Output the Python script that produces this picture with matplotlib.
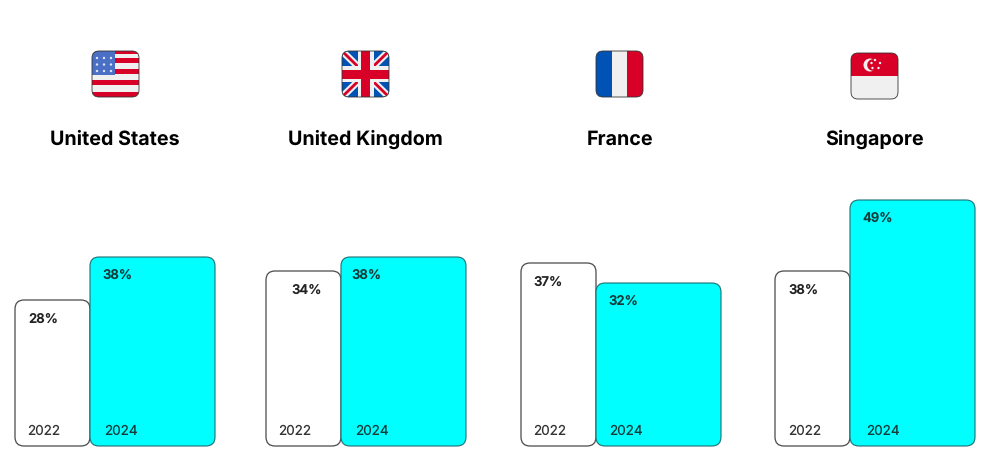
import matplotlib
matplotlib.use("Agg")
import matplotlib.pyplot as plt
from matplotlib.patches import FancyBboxPatch, Rectangle, Polygon, Circle

plt.rcParams['font.family'] = ['Inter', 'DejaVu Sans']
plt.rcParams['text.hinting'] = 'none'

countries = ['United States', 'United Kingdom', 'France', 'Singapore']
years = ['2022', '2024']
labels_2022 = ['28%', '34%', '37%', '38%']
labels_2024 = ['38%', '38%', '32%', '49%']
# heights as drawn, they do not follow the printed labels exactly
height_2022 = [29.2, 35.0, 36.6, 35.0]
height_2024 = [37.8, 37.8, 32.6, 49.2]

PX = 5.0  # pixels per percent
BASE = 446
group_x = [15, 266, 521, 775]
flag_x = [92, 342, 596, 851]
flag_y = [51, 51, 51, 53]
title_x = [115, 365, 620, 875]
label_2022_dx = [13, 25, 12, 13]
label_2024_dx = [12, 10, 12, 12]
year_2022_dx = [12.5, 12.5, 12.5, 13.5]
year_2024_dx = [14.5, 14.5, 13.5, 16.5]
FLAG_W, FLAG_H = 47, 46

fig = plt.figure(figsize=(9.96, 4.71), dpi=100)
ax = fig.add_axes([0, 0, 1, 1])
ax.set_xlim(0, 996)
ax.set_ylim(471, 0)
ax.axis('off')


def rounded(x, y, w, h, r, **kw):
    return FancyBboxPatch((x + r, y + r), w - 2 * r, h - 2 * r,
                          boxstyle=f'round,pad={r},rounding_size={r}', **kw)


def draw_us(x, y):
    parts = [Rectangle((x, y), FLAG_W, FLAG_H, fc='#f0f0f0', lw=0),
             Rectangle((x, y), FLAG_W, 3, fc='#d80027', lw=0)]
    for i in range(4):
        parts.append(Rectangle((x, y + 7 + i * 11.2), FLAG_W, 5, fc='#d80027', lw=0))
    parts.append(Rectangle((x, y), 23, 24, fc='#4a6fc4', lw=0))
    for row in range(3):
        for col in range(3):
            parts.append(Circle((x + 5 + col * 7, y + 7 + row * 6.5), 1.2, fc='#dfe6f5', lw=0))
    return parts


def draw_uk(x, y):
    w, h = FLAG_W, FLAG_H
    parts = [Rectangle((x, y), w, h, fc='#0052b4', lw=0)]
    for a, b in [((x, y), (x + w, y + h)), ((x + w, y), (x, y + h))]:
        parts.append(Polygon([(a[0] - 5, a[1]), (a[0] + 5, a[1]), (b[0] + 5, b[1]), (b[0] - 5, b[1])], fc='#f0f0f0', lw=0))
        parts.append(Polygon([(a[0] - 2, a[1]), (a[0] + 2, a[1]), (b[0] + 2, b[1]), (b[0] - 2, b[1])], fc='#d80027', lw=0))
    parts.append(Rectangle((x + w / 2 - 8, y), 16, h, fc='#f0f0f0', lw=0))
    parts.append(Rectangle((x, y + h / 2 - 8), w, 16, fc='#f0f0f0', lw=0))
    parts.append(Rectangle((x + w / 2 - 4.5, y), 9, h, fc='#d80027', lw=0))
    parts.append(Rectangle((x, y + h / 2 - 4.5), w, 9, fc='#d80027', lw=0))
    return parts


def draw_fr(x, y):
    w = FLAG_W / 3
    return [Rectangle((x, y), w, FLAG_H, fc='#0052b4', lw=0),
            Rectangle((x + w, y), w, FLAG_H, fc='#f0f0f0', lw=0),
            Rectangle((x + 2 * w, y), w + 1, FLAG_H, fc='#d80027', lw=0)]


def draw_sg(x, y):
    parts = [Rectangle((x, y), FLAG_W, FLAG_H, fc='#f0f0f0', lw=0),
             Rectangle((x, y), FLAG_W, FLAG_H / 2, fc='#d80027', lw=0),
             Circle((x + 19, y + 12), 6.5, fc='#f0f0f0', lw=0),
             Circle((x + 22, y + 12), 5.8, fc='#d80027', lw=0)]
    for dx, dy in [(24, 7), (29, 10), (27.5, 15), (21.5, 15), (20.5, 10)]:
        parts.append(Circle((x + dx, y + dy), 1.2, fc='#f0f0f0', lw=0))
    return parts


flag_funcs = [draw_us, draw_uk, draw_fr, draw_sg]

for i, country in enumerate(countries):
    # flag
    x, y = flag_x[i], flag_y[i]
    clip = rounded(x, y, FLAG_W, FLAG_H, 7, fc='none', ec='#333333', lw=0.6, zorder=4)
    ax.add_patch(clip)
    for part in flag_funcs[i](x, y):
        part.set_zorder(3)
        ax.add_patch(part)
        part.set_clip_path(clip)

    ax.text(title_x[i], 145, country, ha='center', va='baseline',
            fontsize=14.2, fontweight='bold', color='#000000')

    # bars
    x0 = group_x[i]
    h0 = height_2022[i] * PX
    h1 = height_2024[i] * PX
    ax.add_patch(rounded(x0, BASE - h0, 75, h0, 9, fc='white', ec='#4a4a4a', lw=0.9, zorder=1))
    ax.add_patch(rounded(x0 + 75, BASE - h1, 125, h1, 9, fc='#00ffff', ec='#1f6f70', lw=0.8, zorder=2))

    ax.text(x0 + label_2022_dx[i], BASE - h0 + 23, labels_2022[i], ha='left', va='baseline',
            fontsize=9.5, fontweight='semibold', color='#222222', zorder=5)
    ax.text(x0 + 75 + label_2024_dx[i], BASE - h1 + 22, labels_2024[i], ha='left', va='baseline',
            fontsize=9.5, fontweight='semibold', color='#163c3c', zorder=5)
    ax.text(x0 + year_2022_dx[i], 434.5, years[0], ha='left', va='baseline',
            fontsize=9.7, color='#333333', zorder=5)
    ax.text(x0 + 75 + year_2024_dx[i], 434.5, years[1], ha='left', va='baseline',
            fontsize=9.7, color='#163c3c', zorder=5)

fig.savefig('out.png', dpi=100)
